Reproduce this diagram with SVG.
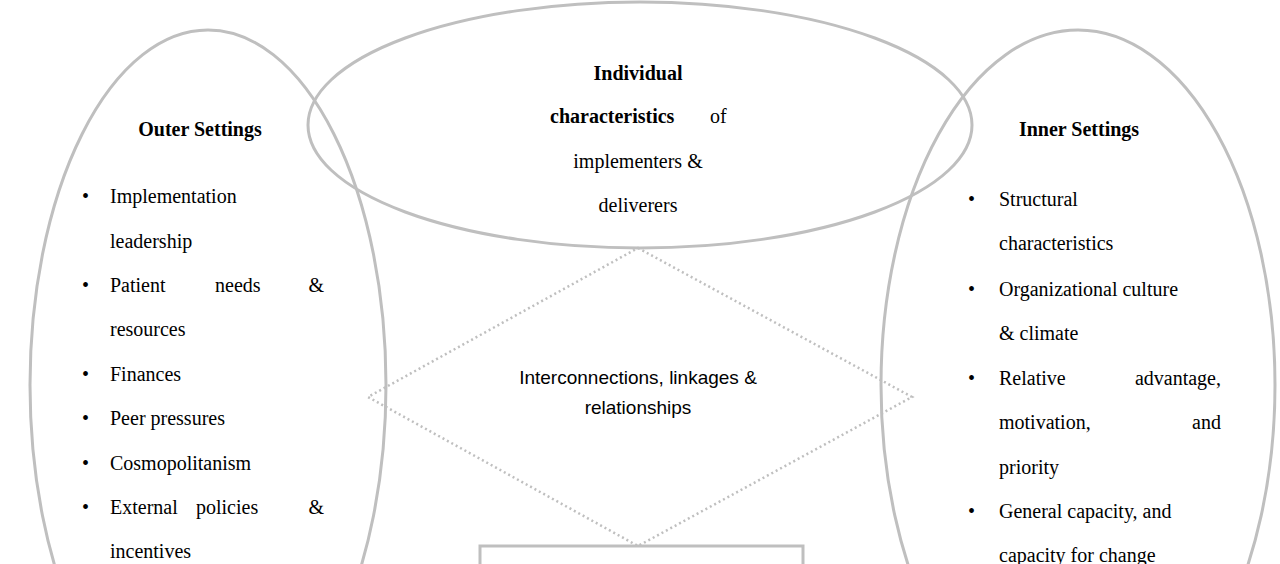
<svg xmlns="http://www.w3.org/2000/svg" width="1280" height="564" viewBox="0 0 1280 564">
<style>
.s{fill:none;stroke:#bfbfbf;stroke-width:3}
.d{fill:none;stroke:#bfbfbf;stroke-width:2.5;stroke-dasharray:2 3}
text{font-family:"Liberation Serif",serif;font-size:20px;fill:#000}
.b{font-weight:bold}
</style>
<rect width="1280" height="564" fill="#fff"/>
<g id="outer">
<ellipse class="s" cx="208" cy="385" rx="178" ry="355"/>
<text x="200" y="136" text-anchor="middle" class="b">Outer Settings</text>
<g>
<text x="82" y="203">•</text><text x="110" y="203">Implementation</text>
<text x="110" y="248">leadership</text>
<text x="82" y="292">•</text><text x="110" y="292">Patient</text><text x="215" y="292">needs</text><text x="324" y="292" text-anchor="end">&amp;</text>
<text x="110" y="336">resources</text>
<text x="82" y="381">•</text><text x="110" y="381">Finances</text>
<text x="82" y="425">•</text><text x="110" y="425">Peer pressures</text>
<text x="82" y="470">•</text><text x="110" y="470">Cosmopolitanism</text>
<text x="82" y="514">•</text><text x="110" y="514">External</text><text x="196" y="514">policies</text><text x="324" y="514" text-anchor="end">&amp;</text>
<text x="110" y="558">incentives</text>
</g>
</g>
<g id="inner">
<ellipse class="s" cx="1078" cy="385" rx="197" ry="355"/>
<text x="1079" y="136" text-anchor="middle" class="b">Inner Settings</text>
<text x="968" y="206">•</text><text x="999" y="206">Structural</text>
<text x="999" y="250">characteristics</text>
<text x="968" y="296">•</text><text x="999" y="296">Organizational culture</text>
<text x="999" y="340">&amp; climate</text>
<text x="968" y="385">•</text><text x="999" y="385">Relative</text><text x="1221" y="385" text-anchor="end">advantage,</text>
<text x="999" y="429">motivation,</text><text x="1221" y="429" text-anchor="end">and</text>
<text x="999" y="474">priority</text>
<text x="968" y="518">•</text><text x="999" y="518">General capacity, and</text>
<text x="999" y="562">capacity for change</text>
</g>
<g id="individual">
<ellipse class="s" cx="640" cy="125" rx="332" ry="123"/>
<text x="638" y="80" text-anchor="middle" class="b">Individual</text>
<text x="550" y="123" class="b">characteristics</text><text x="710" y="123">of</text>
<text x="638" y="168" text-anchor="middle">implementers &amp;</text>
<text x="638" y="212" text-anchor="middle">deliverers</text>
</g>
<g id="interconnections">
<polygon class="d" points="638,248 912,397 638,546 368,397"/>
<text x="638" y="384" text-anchor="middle" style="font-family:'Liberation Sans',sans-serif;font-size:19px">Interconnections, linkages &amp;</text>
<text x="638" y="414" text-anchor="middle" style="font-family:'Liberation Sans',sans-serif;font-size:19px">relationships</text>
</g>
<g id="bottombox">
<polyline class="s" points="480,566 480,546 803,546 803,566"/>
</g>
<g id="connectors"></g>
</svg>
